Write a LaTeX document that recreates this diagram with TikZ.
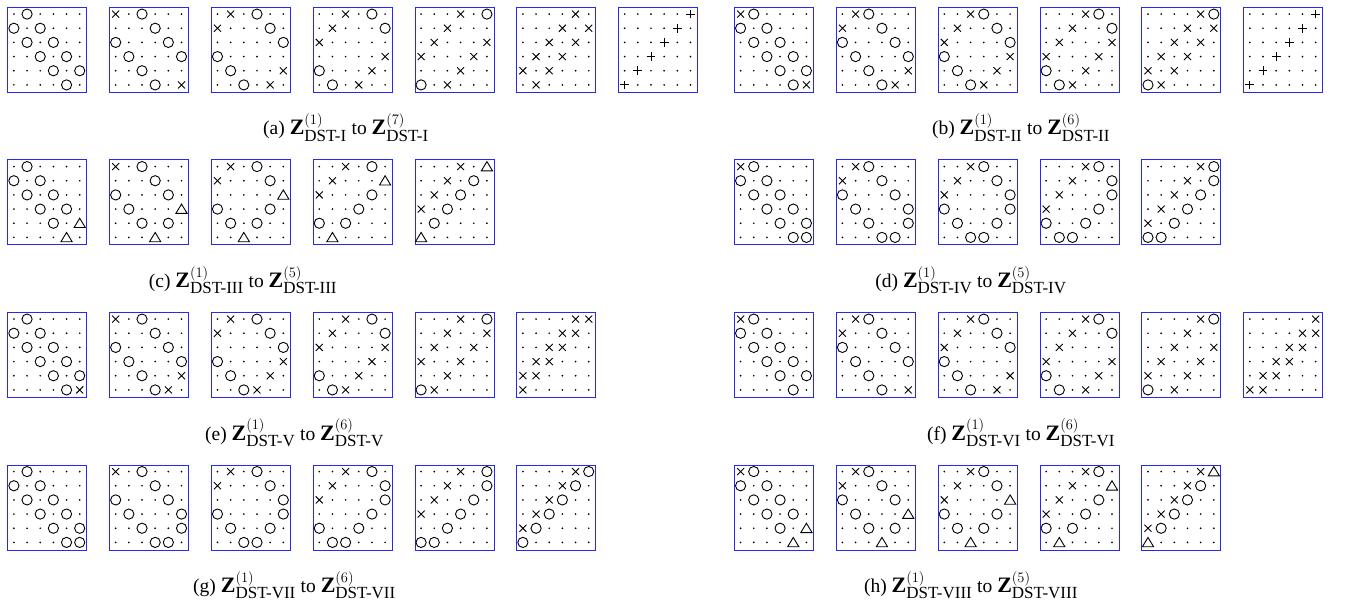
\documentclass[tikz,border=0pt]{standalone}
\usepackage{fix-cm}
\usepackage{fontspec}
\setmainfont{Liberation Serif}
\definecolor{boxblue}{RGB}{40,40,245}
\tikzset{
  gridbox/.style={draw=boxblue, line width=1.0pt, minimum width=79pt, minimum height=85pt, anchor=north west, inner sep=0pt},
  symline/.style={line width=0.9pt, black},
  captext/.style={font=\fontsize{19.5}{23}\selectfont, inner sep=0pt, anchor=base}
}
\newcommand\symd[1]{\fill #1 circle (0.95);}
\newcommand\symo[1]{\draw[symline] #1 circle (5.1);}
\newcommand\symx[1]{\draw[symline,shift={#1}] (-3.5,-3.5) -- (3.5,3.5) (-3.5,3.5) -- (3.5,-3.5);}
\newcommand\symp[1]{\draw[symline,shift={#1}] (-4.4,0) -- (4.4,0) (0,-4.4) -- (0,4.4);}
\newcommand\symt[1]{\draw[symline,shift={#1}] (-5.6,-4.3) -- (5.6,-4.3) -- (0,5.0) -- cycle;}
\newcommand\Sy[3]{\csname sym#3\endcsname{({(#2-0.5)*13.1667},{-(#1-0.5)*14.1667})}}
\def\Rw#1#2#3#4#5#6#7{\Sy{#1}{1}{#2}\Sy{#1}{2}{#3}\Sy{#1}{3}{#4}\Sy{#1}{4}{#5}\Sy{#1}{5}{#6}\Sy{#1}{6}{#7}}
\newcommand\Grid[8]{%
  \node[gridbox] (#1) at (#2) {};
  \begin{scope}[shift={(#1.north west)}]
    \Rw1#3\Rw2#4\Rw3#5\Rw4#6\Rw5#7\Rw6#8
  \end{scope}}
\newcommand\BZ{{\fontsize{22}{24}\selectfont\bfseries Z}}
\newcommand\Sup[1]{\mbox{\fontsize{14.5}{16}\selectfont$(#1)$}}
\newcommand\Sub[1]{\mbox{\fontsize{17}{19}\selectfont #1}}
\newcommand\Cap[3]{(#1)~\BZ$^{\Sup{1}}_{\Sub{#2}}$ to \BZ$^{\Sup{#3}}_{\Sub{#2}}$}
\begin{document}
\begin{tikzpicture}[x=1pt,y=1pt]
\useasboundingbox (0,0) rectangle (1345,-604);
% ---------- row 1 ----------
\def\ry{-7}
\Grid{a1}{{7.3+101.8*0},\ry}{dodddd}{ododdd}{dododd}{ddodod}{dddodo}{ddddod}
\Grid{a2}{{7.3+101.8*1},\ry}{xdoddd}{dddodd}{odddod}{dodddo}{ddoddd}{dddodx}
\Grid{a3}{{7.3+101.8*2},\ry}{dxdodd}{xdddod}{dddddo}{oddddd}{dodddx}{ddodxd}
\Grid{a4}{{7.3+101.8*3},\ry}{ddxdod}{dxdddo}{xddddd}{dddddx}{odddxd}{dodxdd}
\Grid{a5}{{7.3+101.8*4},\ry}{dddxdo}{ddxddd}{dxdddx}{xdddxd}{dddxdd}{odxddd}
\Grid{a6}{{7.3+101.8*5},\ry}{ddddxd}{dddxdx}{ddxdxd}{dxdxdd}{xdxddd}{dxdddd}
\Grid{a7}{{7.3+101.8*6},\ry}{dddddp}{ddddpd}{dddpdd}{ddpddd}{dpdddd}{pddddd}
\Grid{b1}{{734+101.85*0},\ry}{xodddd}{ododdd}{dododd}{ddodod}{dddodo}{ddddox}
\Grid{b2}{{734+101.85*1},\ry}{dxoddd}{xddodd}{odddod}{dodddo}{ddoddx}{dddoxd}
\Grid{b3}{{734+101.85*2},\ry}{ddxodd}{dxddod}{xddddo}{oddddx}{doddxd}{ddoxdd}
\Grid{b4}{{734+101.85*3},\ry}{dddxod}{ddxddo}{dxdddx}{xdddxd}{oddxdd}{doxddd}
\Grid{b5}{{734+101.85*4},\ry}{ddddxo}{dddxdx}{ddxdxd}{dxdxdd}{xdxddd}{oxdddd}
\Grid{b6}{{734+101.85*5},\ry}{dddddp}{ddddpd}{dddpdd}{ddpddd}{dpdddd}{pddddd}
\node[captext] (capa) at (346,-135) {\Cap{a}{DST-I}{7}};
\node[captext] (capb) at (1021,-135) {\Cap{b}{DST-II}{6}};
% ---------- row 2 ----------
\def\ry{-159.5}
\Grid{c1}{{7.3+101.8*0},\ry}{dodddd}{ododdd}{dododd}{ddodod}{dddodt}{ddddtd}
\Grid{c2}{{7.3+101.8*1},\ry}{xdoddd}{dddodd}{odddod}{dodddt}{ddodod}{dddtdd}
\Grid{c3}{{7.3+101.8*2},\ry}{dxdodd}{xdddod}{dddddt}{odddod}{dododd}{ddtddd}
\Grid{c4}{{7.3+101.8*3},\ry}{ddxdod}{dxdddt}{xdddod}{dddodd}{ododdd}{dtdddd}
\Grid{c5}{{7.3+101.8*4},\ry}{dddxdt}{ddxdod}{dxdodd}{xdoddd}{dodddd}{tddddd}
\Grid{d1}{{734+101.85*0},\ry}{xodddd}{ododdd}{dododd}{ddodod}{dddodo}{ddddoo}
\Grid{d2}{{734+101.85*1},\ry}{dxoddd}{xddodd}{odddod}{dodddo}{ddoddo}{dddood}
\Grid{d3}{{734+101.85*2},\ry}{ddxodd}{dxddod}{xddddo}{oddddo}{doddod}{ddoodd}
\Grid{d4}{{734+101.85*3},\ry}{dddxod}{ddxddo}{dxdddo}{xdddod}{oddodd}{dooddd}
\Grid{d5}{{734+101.85*4},\ry}{ddddxo}{dddxdo}{ddxdod}{dxdodd}{xdoddd}{oodddd}
\node[captext] (capc) at (243,-287.5) {\Cap{c}{DST-III}{5}};
\node[captext] (capd) at (971,-287.5) {\Cap{d}{DST-IV}{5}};
% ---------- row 3 ----------
\def\ry{-312}
\Grid{e1}{{7.3+101.8*0},\ry}{dodddd}{ododdd}{dododd}{ddodod}{dddodo}{ddddox}
\Grid{e2}{{7.3+101.8*1},\ry}{xdoddd}{dddodd}{odddod}{dodddo}{ddoddx}{dddoxd}
\Grid{e3}{{7.3+101.8*2},\ry}{dxdodd}{xdddod}{dddddo}{oddddx}{doddxd}{ddoxdd}
\Grid{e4}{{7.3+101.8*3},\ry}{ddxdod}{dxdddo}{xddddx}{ddddxd}{oddxdd}{doxddd}
\Grid{e5}{{7.3+101.8*4},\ry}{dddxdo}{ddxddx}{dxddxd}{xddxdd}{ddxddd}{oxdddd}
\Grid{e6}{{7.3+101.8*5},\ry}{ddddxx}{dddxxd}{ddxxdd}{dxxddd}{xxdddd}{xddddd}
\Grid{f1}{{734+101.85*0},\ry}{xodddd}{ododdd}{dododd}{ddodod}{dddodo}{ddddod}
\Grid{f2}{{734+101.85*1},\ry}{dxoddd}{xddodd}{odddod}{dodddo}{ddoddd}{dddodx}
\Grid{f3}{{734+101.85*2},\ry}{ddxodd}{dxddod}{xddddo}{oddddd}{dodddx}{ddodxd}
\Grid{f4}{{734+101.85*3},\ry}{dddxod}{ddxddo}{dxdddd}{xddddx}{odddxd}{dodxdd}
\Grid{f5}{{734+101.85*4},\ry}{ddddxo}{dddxdd}{ddxddx}{dxddxd}{xddxdd}{odxddd}
\Grid{f6}{{734+101.85*5},\ry}{dddddx}{ddddxx}{dddxxd}{ddxxdd}{dxxddd}{xxdddd}
\node[captext] (cape) at (294.5,-440) {\Cap{e}{DST-V}{6}};
\node[captext] (capf) at (1021,-440) {\Cap{f}{DST-VI}{6}};
% ---------- row 4 ----------
\def\ry{-464.5}
\Grid{g1}{{7.3+101.8*0},\ry}{dodddd}{ododdd}{dododd}{ddodod}{dddodo}{ddddoo}
\Grid{g2}{{7.3+101.8*1},\ry}{xdoddd}{dddodd}{odddod}{dodddo}{ddoddo}{dddood}
\Grid{g3}{{7.3+101.8*2},\ry}{dxdodd}{xdddod}{dddddo}{oddddo}{doddod}{ddoodd}
\Grid{g4}{{7.3+101.8*3},\ry}{ddxdod}{dxdddo}{xddddo}{ddddod}{oddodd}{dooddd}
\Grid{g5}{{7.3+101.8*4},\ry}{dddxdo}{ddxddo}{dxddod}{xddodd}{ddoddd}{oodddd}
\Grid{g6}{{7.3+101.8*5},\ry}{ddddxo}{dddxod}{ddxodd}{dxoddd}{xodddd}{oddddd}
\Grid{h1}{{734+101.85*0},\ry}{xodddd}{ododdd}{dododd}{ddodod}{dddodt}{ddddtd}
\Grid{h2}{{734+101.85*1},\ry}{dxoddd}{xddodd}{odddod}{dodddt}{ddodod}{dddtdd}
\Grid{h3}{{734+101.85*2},\ry}{ddxodd}{dxddod}{xddddt}{odddod}{dododd}{ddtddd}
\Grid{h4}{{734+101.85*3},\ry}{dddxod}{ddxddt}{dxddod}{xddodd}{ododdd}{dtdddd}
\Grid{h5}{{734+101.85*4},\ry}{ddddxt}{dddxod}{ddxodd}{dxoddd}{xodddd}{tddddd}
\node[captext] (capg) at (294.5,-592.5) {\Cap{g}{DST-VII}{6}};
\node[captext] (caph) at (971,-592.5) {\Cap{h}{DST-VIII}{5}};
\end{tikzpicture}
\end{document}
